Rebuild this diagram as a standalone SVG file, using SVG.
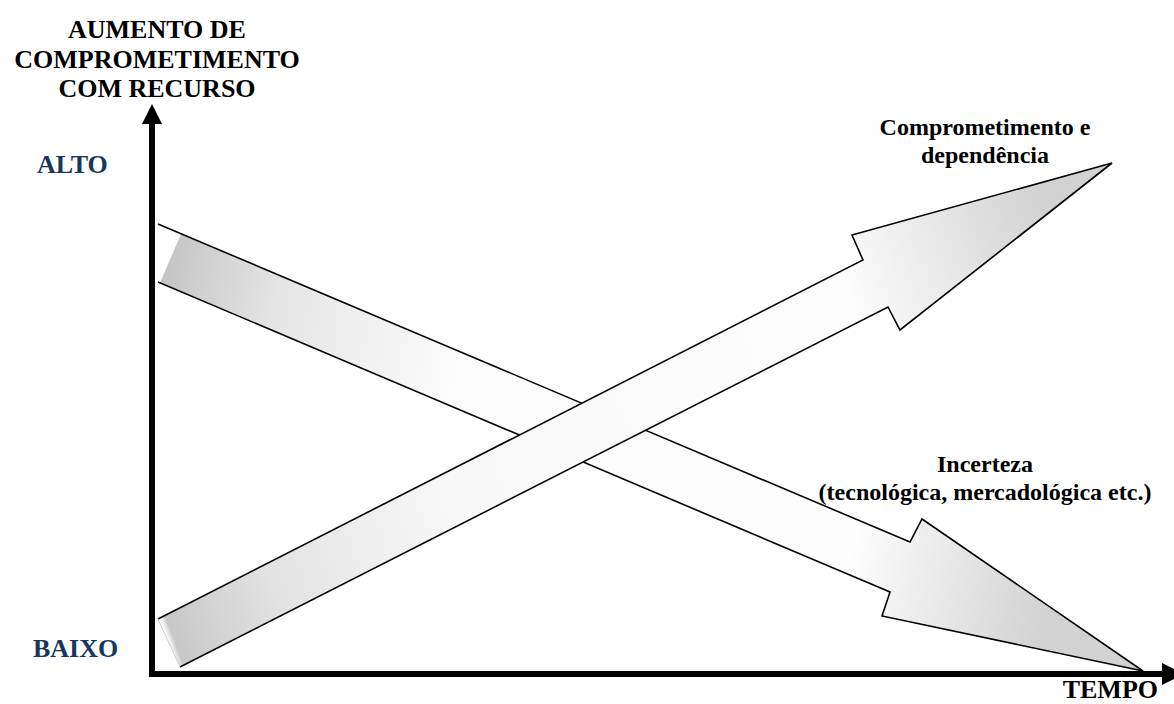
<svg xmlns="http://www.w3.org/2000/svg" width="1174" height="704" viewBox="0 0 1174 704">
<style>
.t{font-family:"Liberation Serif","Times New Roman",serif;font-weight:bold;fill:#000}
.big{font-size:26px}
.lab{font-size:24px}
.lvl{fill:#17365d}
.edge{fill:none;stroke:#000;stroke-width:1.6;stroke-linejoin:miter}
.axis{stroke:#000;stroke-width:6;fill:none}
</style>
<defs>
<linearGradient id="gDown" gradientUnits="userSpaceOnUse" x1="170" y1="258" x2="1080" y2="430">
<stop offset="0" stop-color="#c6c6c6"/>
<stop offset="0.12" stop-color="#e4e4e4"/>
<stop offset="0.32" stop-color="#fbfbfb"/>
<stop offset="0.78" stop-color="#fdfdfd"/>
<stop offset="1" stop-color="#d2d2d2"/>
</linearGradient>
<linearGradient id="gUp" gradientUnits="userSpaceOnUse" x1="169" y1="643" x2="1080" y2="310">
<stop offset="0" stop-color="#ffffff"/>
<stop offset="0.006" stop-color="#c8c8c8"/>
<stop offset="0.12" stop-color="#e2e2e2"/>
<stop offset="0.32" stop-color="#f8f8f8"/>
<stop offset="0.78" stop-color="#fcfcfc"/>
<stop offset="1" stop-color="#d2d2d2"/>
</linearGradient>
</defs>

<g id="axes">
<line class="axis" x1="152" y1="120" x2="152" y2="677"/>
<polygon points="152,104 142,124 162,124" fill="#000"/>
<line class="axis" x1="149" y1="674" x2="1166" y2="674"/>
<polygon points="1162,663 1162,685 1184,674" fill="#000"/>
</g>

<g id="title">
<text class="t big" x="157" y="38" text-anchor="middle">AUMENTO DE</text>
<text class="t big" x="157" y="68" text-anchor="middle">COMPROMETIMENTO</text>
<text class="t big" x="157" y="97" text-anchor="middle">COM RECURSO</text>
</g>
<g id="alto"><text class="t big lvl" x="37" y="173">ALTO</text></g>
<g id="baixo"><text class="t big lvl" x="33" y="657">BAIXO</text></g>
<g id="tempo"><text class="t big" x="1158" y="698" text-anchor="end">TEMPO</text></g>

<g id="connectors">
<g id="arrow-incerteza">
<polygon points="181,234 910,542 922,519 1143,671 882,616 890,592 160,283" fill="url(#gDown)"/>
<polyline class="edge" points="158,224 910,542 922,519 1143,671 882,616 890,592 158,282"/>
</g>
<g id="arrow-comprometimento">
<polygon points="158,619 863,260 852,235 1112,163 900,330 888,307 180,667" fill="url(#gUp)"/>
<polyline class="edge" points="180,667 888,307 900,330 1112,163 852,235 863,260 158,619"/>
<line x1="158" y1="619" x2="180" y2="667" stroke="#bdbdbd" stroke-width="0.8"/>
</g>
</g>

<g id="label-comprometimento">
<text class="t lab" x="985" y="135" text-anchor="middle">Comprometimento e</text>
<text class="t lab" x="985" y="163" text-anchor="middle">dependência</text>
</g>
<g id="label-incerteza">
<text class="t lab" x="985" y="472" text-anchor="middle">Incerteza</text>
<text class="t lab" x="985" y="500" text-anchor="middle">(tecnológica, mercadológica etc.)</text>
</g>
</svg>
